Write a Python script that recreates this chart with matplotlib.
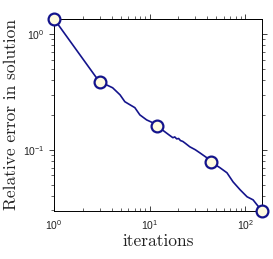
import matplotlib
matplotlib.use('Agg')
import matplotlib.pyplot as plt

# error curve (iteration, relative error)
iters = [1, 3.0, 3.5, 4.1, 4.9, 5.5, 6.2, 7.0, 7.9, 9.3, 10.8, 11.9,
         14.4, 16.0, 17.5, 18.3, 19.2, 20.1, 21.0, 22.2, 23.5, 26.3,
         30.0, 33.5, 39.7, 43.6, 54.4, 64.4, 74.5, 88.3, 104.5, 120.7,
         132.8, 150]
err = [1.35, 0.383, 0.365, 0.343, 0.298, 0.260, 0.245, 0.231, 0.200, 0.181,
       0.171, 0.161, 0.143, 0.134, 0.127, 0.129, 0.124, 0.125, 0.120, 0.118,
       0.114, 0.106, 0.100, 0.094, 0.0852, 0.0787, 0.0699, 0.0632, 0.0528,
       0.0451, 0.0392, 0.0369, 0.0334, 0.0295]

marker_iters = [1, 3.0, 11.9, 43.6, 150]
marker_err = [1.35, 0.383, 0.161, 0.0787, 0.0295]

navy = '#14148c'

plt.rcParams['font.family'] = 'Liberation Sans'
plt.rcParams['axes.linewidth'] = 0.7

fig = plt.figure(figsize=(2.73, 2.59), dpi=100)
ax = fig.add_axes([0.198, 0.185, 0.762, 0.742])

ax.plot(iters, err, color=navy, lw=1.2, zorder=3)
ax.plot(marker_iters, marker_err, 'o', ms=8.5, mfc='#fffbe0', mec=navy,
        mew=1.6, zorder=4, clip_on=False)

ax.set_xscale('log')
ax.set_yscale('log')
ax.set_xlim(1, 150)
ax.set_ylim(0.0295, 1.35)

ax.tick_params(axis='x', which='both', direction='in', labelsize=7.5,
               colors='#222222', pad=5)
ax.tick_params(axis='y', which='both', direction='out', right=True,
               labelsize=7.5, colors='#222222')
ax.tick_params(which='major', length=3.5, width=0.6)
ax.tick_params(which='minor', length=2, width=0.5)

top = ax.secondary_xaxis('top')
top.tick_params(which='both', direction='out', labeltop=False, colors='#222222')
top.tick_params(which='major', length=3.5, width=0.6)
top.tick_params(which='minor', length=2, width=0.5)
top.set_xticklabels([])

ax.set_xlabel('iterations', fontfamily='cmr10', fontsize=12.5, color='#222222',
              labelpad=1)
ax.set_ylabel('Relative error in solution', fontfamily='cmr10', fontsize=12.5,
              color='#222222', labelpad=3)

fig.savefig('out.png', dpi=100)
